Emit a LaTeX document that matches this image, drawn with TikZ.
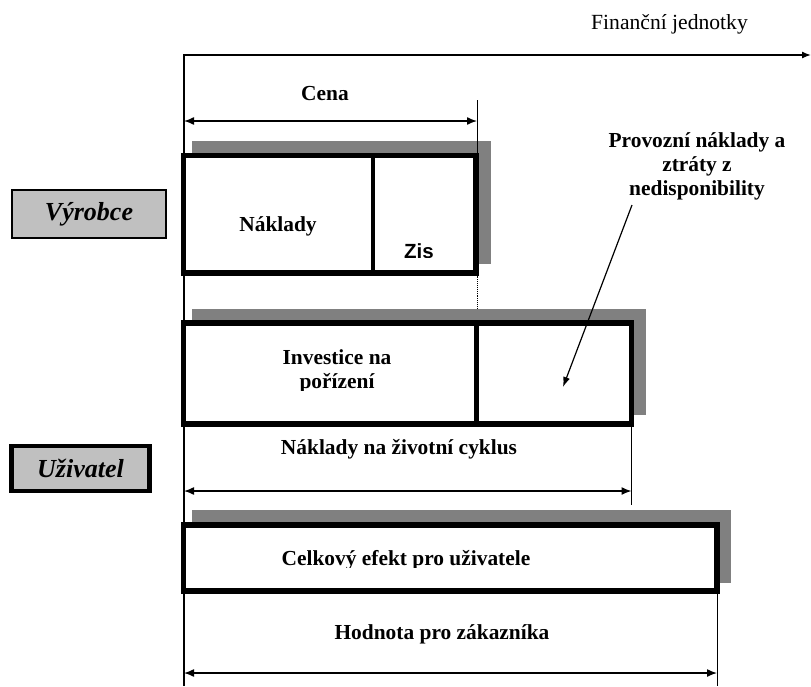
\documentclass[tikz,border=0pt]{standalone}
\usepackage{fontspec}
\setmainfont{Liberation Serif}
\newfontfamily\arialbold{Liberation Sans}[BoldFont={* Bold}]
\usetikzlibrary{arrows.meta,fit}
\definecolor{shade}{RGB}{128,128,128}
\definecolor{tagfill}{RGB}{192,192,192}
\tikzset{
  shadowbox/.style={fill=shade, draw=none, inner sep=0pt},
  mainbox/.style={draw=black, line width=5.5pt, fill=white, inner sep=0pt},
  divider/.style={draw=black, line width=4.5pt},
  tagbox/.style={draw=black, fill=tagfill, inner sep=0pt,
    font=\bfseries\itshape\fontsize{26}{30}\selectfont},
  dim/.style={line width=1.4pt, {Latex[length=10pt,width=8pt]}-{Latex[length=10pt,width=8pt]}},
  axis/.style={line width=1.4pt, -{Latex[length=9pt,width=7pt]}},
  guide/.style={line width=0.9pt},
  lbl/.style={font=\bfseries\fontsize{21.4}{24}\selectfont, align=center, inner sep=0pt},
  plain/.style={font=\fontsize{21.6}{24}\selectfont, inner sep=0pt},
  pointer/.style={line width=1.2pt, -{Latex[length=10pt,width=7pt]}}
}
\begin{document}
\begin{tikzpicture}[x=1pt,y=-1pt]
\useasboundingbox (0,0) rectangle (811,686);

% axes
\coordinate (O) at (184,55);
\coordinate (xend) at (811,55);
\coordinate (ybot) at (184,686);
\draw[axis] (ybot) -- (O) -- (xend);
\node[plain] (fin) at (669.5,24) {Finanční jednotky};

% price dimension
\coordinate (cenaL) at (184,121);
\coordinate (cenaR) at (477,121);
\coordinate (cenaTop) at (477,100);
\node[lbl] (cena) at (325,94) {Cena};

% producer bar
\node[shadowbox, fit={(192,141) (490.5,264)}] (sh1) {};
\node[mainbox, fit={(183.5,155.5) (476,273)}] (bar1) {};
\draw[divider] (373,155.5) -- (373,273);
\draw[guide] (cenaTop) -- (477,153);
\draw[dim] (cenaL) -- (cenaR);
\node[lbl] (naklady) at (278,226) {Náklady};
\begin{scope}
  \clip (376,158) rectangle (473,257);
  \node[font=\arialbold\bfseries\fontsize{20.5}{24}\selectfont, inner sep=0pt] (zis) at (419,251.5) {Zis};
\end{scope}

% link between bars
\draw[guide, densely dotted] (477,275.5) -- (477,321);

% lifecycle bar
\node[shadowbox, fit={(192,309) (645.5,415)}] (sh2) {};
\node[mainbox, fit={(183.5,323) (631.5,424)}] (bar2) {};
\draw[divider] (476.7,323) -- (476.7,424);
\begin{scope}
  \clip (186,326) rectangle (474,390);
  \node[lbl] (invest) at (337,371.5) {Investice na\\pořízení};
\end{scope}

% operating costs note
\node[lbl] (prov) at (697,166) {Provozní náklady a\\ztráty z\\nedisponibility};
\coordinate (provStart) at (632,205);
\coordinate (provEnd) at (563,387);
\draw[pointer] (provStart) -- (provEnd);

% lifecycle dimension
\node[lbl] (lcc) at (399,449) {Náklady na životní cyklus};
\coordinate (lccL) at (184,491);
\coordinate (lccR) at (631.5,491);
\draw[guide] (631.5,426) -- (631.5,505);
\draw[dim] (lccL) -- (lccR);

% side labels
\node[tagbox, line width=1.6pt, minimum width=154pt, minimum height=48pt] (vyrobce) at (89,214) {Výrobce};
\node[tagbox, line width=4.3pt, minimum width=138pt, minimum height=45pt] (uzivatel) at (80.5,468.5) {Uživatel};

% user effect bar
\node[shadowbox, fit={(192,510) (730.5,582.5)}] (sh3) {};
\node[mainbox, fit={(183.5,525) (717,591)}] (bar3) {};
\begin{scope}
  \clip (186,528) rectangle (714,567);
  \node[lbl] (effect) at (406,560) {Celkový efekt pro uživatele};
\end{scope}

% customer value dimension
\node[lbl] (value) at (442,634) {Hodnota pro zákazníka};
\coordinate (valL) at (184,673);
\coordinate (valR) at (717,673);
\draw[guide] (717,594) -- (717,686);
\draw[dim] (valL) -- (valR);
\end{tikzpicture}
\end{document}
